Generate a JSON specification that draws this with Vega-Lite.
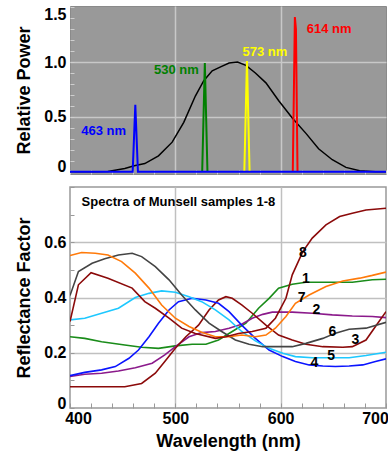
{
  "$schema": "https://vega.github.io/schema/vega-lite/v6.json",
  "padding": {"left": 15, "top": 5, "right": 0, "bottom": 0},
  "spacing": 9,
  "resolve": {"scale": {"color": "independent"}},
  "config": {
    "font": "Liberation Sans",
    "view": {"stroke": null},
    "axis": {
      "labelFont": "Liberation Sans", "labelFontWeight": "bold", "labelFontSize": 16, "labelColor": "#000000",
      "titleFont": "Liberation Sans", "titleFontWeight": "bold", "titleFontSize": 18, "titleColor": "#000000"
    }
  },
  "datasets": {
    "power": [
      {"wl": 400, "p": 0}, {"wl": 420, "p": 0}, {"wl": 436, "p": 0.003}, {"wl": 452, "p": 0.03}, {"wl": 461, "p": 0.055},
      {"wl": 471, "p": 0.075}, {"wl": 484, "p": 0.145}, {"wl": 497, "p": 0.27}, {"wl": 508, "p": 0.45}, {"wl": 519, "p": 0.69},
      {"wl": 527, "p": 0.83}, {"wl": 535, "p": 0.92}, {"wl": 544, "p": 0.96}, {"wl": 551, "p": 0.99}, {"wl": 559, "p": 1.0},
      {"wl": 567, "p": 0.97}, {"wl": 576, "p": 0.9}, {"wl": 586, "p": 0.81}, {"wl": 598, "p": 0.65}, {"wl": 611, "p": 0.49},
      {"wl": 624, "p": 0.35}, {"wl": 636, "p": 0.21}, {"wl": 649, "p": 0.11}, {"wl": 662, "p": 0.04}, {"wl": 675, "p": 0.01},
      {"wl": 690, "p": 0}, {"wl": 700, "p": 0}
    ],
    "spikes": [
      {"s": "red", "wl": 611.5, "p": 0}, {"s": "red", "wl": 613.5, "p": 1.41}, {"s": "red", "wl": 614.5, "p": 1.3}, {"s": "red", "wl": 616, "p": 0},
      {"s": "yellow", "wl": 565.5, "p": 0}, {"s": "yellow", "wl": 568, "p": 1.01}, {"s": "yellow", "wl": 570.5, "p": 0},
      {"s": "green", "wl": 525.5, "p": 0}, {"s": "green", "wl": 528, "p": 0.99}, {"s": "green", "wl": 530.5, "p": 0},
      {"s": "blue", "wl": 400, "p": 0}, {"s": "blue", "wl": 459.5, "p": 0}, {"s": "blue", "wl": 462, "p": 0.61}, {"s": "blue", "wl": 464.5, "p": 0}, {"s": "blue", "wl": 700, "p": 0}
    ],
    "spikeLabels": [
      {"s": "red", "wl": 646, "p": 1.3, "t": "614 nm"},
      {"s": "yellow", "wl": 585, "p": 1.09, "t": "573 nm"},
      {"s": "green", "wl": 501, "p": 0.93, "t": "530 nm"},
      {"s": "blue", "wl": 432, "p": 0.37, "t": "463 nm"}
    ],
    "refl": [
      {"s": "1", "wl": 400, "r": 0.258}, {"s": "1", "wl": 414, "r": 0.252}, {"s": "1", "wl": 430, "r": 0.24}, {"s": "1", "wl": 452, "r": 0.228}, {"s": "1", "wl": 468, "r": 0.22}, {"s": "1", "wl": 484, "r": 0.216}, {"s": "1", "wl": 500, "r": 0.225}, {"s": "1", "wl": 516, "r": 0.231}, {"s": "1", "wl": 529, "r": 0.231}, {"s": "1", "wl": 541, "r": 0.246}, {"s": "1", "wl": 554, "r": 0.277}, {"s": "1", "wl": 567, "r": 0.307}, {"s": "1", "wl": 579, "r": 0.361}, {"s": "1", "wl": 589, "r": 0.397}, {"s": "1", "wl": 598, "r": 0.434}, {"s": "1", "wl": 611, "r": 0.448}, {"s": "1", "wl": 624, "r": 0.455}, {"s": "1", "wl": 643, "r": 0.455}, {"s": "1", "wl": 668, "r": 0.455}, {"s": "1", "wl": 687, "r": 0.464}, {"s": "1", "wl": 700, "r": 0.466},
      {"s": "2", "wl": 400, "r": 0.114}, {"s": "2", "wl": 414, "r": 0.122}, {"s": "2", "wl": 430, "r": 0.126}, {"s": "2", "wl": 446, "r": 0.134}, {"s": "2", "wl": 462, "r": 0.146}, {"s": "2", "wl": 478, "r": 0.162}, {"s": "2", "wl": 490, "r": 0.192}, {"s": "2", "wl": 500, "r": 0.222}, {"s": "2", "wl": 513, "r": 0.258}, {"s": "2", "wl": 525, "r": 0.273}, {"s": "2", "wl": 538, "r": 0.277}, {"s": "2", "wl": 551, "r": 0.289}, {"s": "2", "wl": 563, "r": 0.303}, {"s": "2", "wl": 573, "r": 0.325}, {"s": "2", "wl": 583, "r": 0.339}, {"s": "2", "wl": 592, "r": 0.347}, {"s": "2", "wl": 611, "r": 0.347}, {"s": "2", "wl": 630, "r": 0.343}, {"s": "2", "wl": 649, "r": 0.337}, {"s": "2", "wl": 668, "r": 0.333}, {"s": "2", "wl": 687, "r": 0.331}, {"s": "2", "wl": 700, "r": 0.327},
      {"s": "3", "wl": 400, "r": 0.077}, {"s": "3", "wl": 452, "r": 0.077}, {"s": "3", "wl": 468, "r": 0.089}, {"s": "3", "wl": 481, "r": 0.126}, {"s": "3", "wl": 490, "r": 0.168}, {"s": "3", "wl": 500, "r": 0.216}, {"s": "3", "wl": 510, "r": 0.258}, {"s": "3", "wl": 522, "r": 0.3}, {"s": "3", "wl": 532, "r": 0.355}, {"s": "3", "wl": 541, "r": 0.391}, {"s": "3", "wl": 548, "r": 0.403}, {"s": "3", "wl": 554, "r": 0.397}, {"s": "3", "wl": 563, "r": 0.373}, {"s": "3", "wl": 573, "r": 0.343}, {"s": "3", "wl": 586, "r": 0.3}, {"s": "3", "wl": 598, "r": 0.264}, {"s": "3", "wl": 611, "r": 0.246}, {"s": "3", "wl": 624, "r": 0.231}, {"s": "3", "wl": 640, "r": 0.222}, {"s": "3", "wl": 659, "r": 0.22}, {"s": "3", "wl": 668, "r": 0.222}, {"s": "3", "wl": 681, "r": 0.246}, {"s": "3", "wl": 690, "r": 0.295}, {"s": "3", "wl": 700, "r": 0.349},
      {"s": "4", "wl": 400, "r": 0.117}, {"s": "4", "wl": 414, "r": 0.129}, {"s": "4", "wl": 430, "r": 0.138}, {"s": "4", "wl": 443, "r": 0.15}, {"s": "4", "wl": 456, "r": 0.18}, {"s": "4", "wl": 465, "r": 0.21}, {"s": "4", "wl": 475, "r": 0.258}, {"s": "4", "wl": 484, "r": 0.307}, {"s": "4", "wl": 494, "r": 0.355}, {"s": "4", "wl": 503, "r": 0.385}, {"s": "4", "wl": 516, "r": 0.397}, {"s": "4", "wl": 529, "r": 0.391}, {"s": "4", "wl": 541, "r": 0.379}, {"s": "4", "wl": 551, "r": 0.349}, {"s": "4", "wl": 563, "r": 0.3}, {"s": "4", "wl": 576, "r": 0.252}, {"s": "4", "wl": 589, "r": 0.21}, {"s": "4", "wl": 602, "r": 0.186}, {"s": "4", "wl": 614, "r": 0.168}, {"s": "4", "wl": 627, "r": 0.156}, {"s": "4", "wl": 640, "r": 0.152}, {"s": "4", "wl": 652, "r": 0.15}, {"s": "4", "wl": 665, "r": 0.152}, {"s": "4", "wl": 678, "r": 0.156}, {"s": "4", "wl": 690, "r": 0.168}, {"s": "4", "wl": 700, "r": 0.178},
      {"s": "5", "wl": 400, "r": 0.319}, {"s": "5", "wl": 414, "r": 0.325}, {"s": "5", "wl": 430, "r": 0.343}, {"s": "5", "wl": 446, "r": 0.361}, {"s": "5", "wl": 462, "r": 0.4}, {"s": "5", "wl": 475, "r": 0.415}, {"s": "5", "wl": 487, "r": 0.424}, {"s": "5", "wl": 500, "r": 0.419}, {"s": "5", "wl": 513, "r": 0.403}, {"s": "5", "wl": 525, "r": 0.385}, {"s": "5", "wl": 538, "r": 0.355}, {"s": "5", "wl": 551, "r": 0.319}, {"s": "5", "wl": 563, "r": 0.277}, {"s": "5", "wl": 576, "r": 0.243}, {"s": "5", "wl": 589, "r": 0.216}, {"s": "5", "wl": 602, "r": 0.198}, {"s": "5", "wl": 614, "r": 0.186}, {"s": "5", "wl": 630, "r": 0.182}, {"s": "5", "wl": 649, "r": 0.182}, {"s": "5", "wl": 665, "r": 0.182}, {"s": "5", "wl": 681, "r": 0.19}, {"s": "5", "wl": 700, "r": 0.202},
      {"s": "6", "wl": 400, "r": 0.407}, {"s": "6", "wl": 408, "r": 0.494}, {"s": "6", "wl": 421, "r": 0.524}, {"s": "6", "wl": 433, "r": 0.54}, {"s": "6", "wl": 446, "r": 0.554}, {"s": "6", "wl": 459, "r": 0.56}, {"s": "6", "wl": 468, "r": 0.548}, {"s": "6", "wl": 481, "r": 0.512}, {"s": "6", "wl": 494, "r": 0.464}, {"s": "6", "wl": 506, "r": 0.409}, {"s": "6", "wl": 519, "r": 0.355}, {"s": "6", "wl": 532, "r": 0.307}, {"s": "6", "wl": 544, "r": 0.277}, {"s": "6", "wl": 557, "r": 0.246}, {"s": "6", "wl": 570, "r": 0.231}, {"s": "6", "wl": 583, "r": 0.222}, {"s": "6", "wl": 595, "r": 0.222}, {"s": "6", "wl": 611, "r": 0.222}, {"s": "6", "wl": 624, "r": 0.234}, {"s": "6", "wl": 640, "r": 0.252}, {"s": "6", "wl": 652, "r": 0.271}, {"s": "6", "wl": 665, "r": 0.285}, {"s": "6", "wl": 681, "r": 0.289}, {"s": "6", "wl": 700, "r": 0.31},
      {"s": "7", "wl": 400, "r": 0.552}, {"s": "7", "wl": 411, "r": 0.563}, {"s": "7", "wl": 424, "r": 0.56}, {"s": "7", "wl": 436, "r": 0.554}, {"s": "7", "wl": 449, "r": 0.53}, {"s": "7", "wl": 462, "r": 0.488}, {"s": "7", "wl": 475, "r": 0.434}, {"s": "7", "wl": 487, "r": 0.373}, {"s": "7", "wl": 500, "r": 0.325}, {"s": "7", "wl": 513, "r": 0.295}, {"s": "7", "wl": 525, "r": 0.274}, {"s": "7", "wl": 538, "r": 0.258}, {"s": "7", "wl": 551, "r": 0.258}, {"s": "7", "wl": 563, "r": 0.264}, {"s": "7", "wl": 576, "r": 0.258}, {"s": "7", "wl": 586, "r": 0.264}, {"s": "7", "wl": 595, "r": 0.289}, {"s": "7", "wl": 605, "r": 0.331}, {"s": "7", "wl": 614, "r": 0.379}, {"s": "7", "wl": 627, "r": 0.409}, {"s": "7", "wl": 643, "r": 0.44}, {"s": "7", "wl": 659, "r": 0.46}, {"s": "7", "wl": 675, "r": 0.47}, {"s": "7", "wl": 687, "r": 0.48}, {"s": "7", "wl": 700, "r": 0.492},
      {"s": "8", "wl": 400, "r": 0.313}, {"s": "8", "wl": 408, "r": 0.446}, {"s": "8", "wl": 420, "r": 0.49}, {"s": "8", "wl": 436, "r": 0.47}, {"s": "8", "wl": 459, "r": 0.434}, {"s": "8", "wl": 471, "r": 0.385}, {"s": "8", "wl": 481, "r": 0.361}, {"s": "8", "wl": 494, "r": 0.325}, {"s": "8", "wl": 506, "r": 0.289}, {"s": "8", "wl": 519, "r": 0.27}, {"s": "8", "wl": 538, "r": 0.252}, {"s": "8", "wl": 548, "r": 0.258}, {"s": "8", "wl": 560, "r": 0.27}, {"s": "8", "wl": 573, "r": 0.277}, {"s": "8", "wl": 586, "r": 0.289}, {"s": "8", "wl": 595, "r": 0.325}, {"s": "8", "wl": 605, "r": 0.397}, {"s": "8", "wl": 611, "r": 0.482}, {"s": "8", "wl": 621, "r": 0.566}, {"s": "8", "wl": 630, "r": 0.615}, {"s": "8", "wl": 643, "r": 0.663}, {"s": "8", "wl": 656, "r": 0.693}, {"s": "8", "wl": 668, "r": 0.705}, {"s": "8", "wl": 681, "r": 0.717}, {"s": "8", "wl": 700, "r": 0.723}
    ],
    "nums": [
      {"t": "8", "wl": 621, "r": 0.56}, {"t": "1", "wl": 624, "r": 0.467}, {"t": "7", "wl": 620, "r": 0.4}, {"t": "2", "wl": 634, "r": 0.353},
      {"t": "6", "wl": 649, "r": 0.274}, {"t": "3", "wl": 671, "r": 0.246}, {"t": "5", "wl": 648, "r": 0.19}, {"t": "4", "wl": 632, "r": 0.164}
    ],
    "titleRow": [{"wl": 411, "r": 0.746, "t": "Spectra of Munsell samples 1-8"}]
  },
  "vconcat": [
    {
      "width": 316,
      "height": 168,
      "view": {"fill": "#999999", "stroke": "#8a8a8a", "strokeWidth": 1},
      "encoding": {
        "x": {"field": "wl", "type": "quantitative", "scale": {"domain": [400, 700], "nice": false, "zero": false},
          "axis": {"values": [400,420,440,460,480,500,520,540,560,580,600,620,640,660,680,700], "labels": false, "title": null, "domain": false,
            "tickSize": -4, "tickColor": "#cfcfcf", "minExtent": 0, "maxExtent": 0,
            "grid": true, "gridColor": "#c8c8c8", "gridWidth": 1.5,
            "gridOpacity": {"condition": {"test": "datum.value == 500 || datum.value == 600", "value": 1}, "value": 0}}},
        "y": {"field": "p", "type": "quantitative", "scale": {"domain": [-0.02, 1.51], "nice": false, "zero": false},
          "axis": {"values": [0,0.1,0.2,0.3,0.4,0.5,0.6,0.7,0.8,0.9,1,1.1,1.2,1.3,1.4,1.5], "title": "Relative Power", "titlePadding": 10, "domain": false,
            "tickSize": -4, "tickColor": "#cfcfcf", "labelPadding": 8,
            "labelExpr": "round(datum.value*10) % 5 == 0 ? (datum.value == 0 ? '0' : format(datum.value, '.1f')) : ''",
            "labelOffset": {"condition": [{"test": "datum.value == 0", "value": -5}, {"test": "datum.value == 1.5", "value": 7}], "value": 0},
            "grid": true, "gridColor": "#c8c8c8", "gridWidth": 1.5,
            "gridOpacity": {"condition": {"test": "datum.value == 0.5 || datum.value == 1", "value": 1}, "value": 0}}}
      },
      "layer": [
        {"data": {"name": "power"}, "mark": {"type": "line", "color": "#000000", "strokeWidth": 1.5, "clip": true}},
        {"data": {"name": "spikes"}, "mark": {"type": "line", "strokeWidth": 2, "clip": true},
          "encoding": {"color": {"field": "s", "type": "nominal", "scale": {"domain": ["red", "yellow", "green", "blue"], "range": ["#ff0000", "#ffff00", "#008000", "#0000ff"]}, "legend": null}}},
        {"data": {"name": "spikeLabels"}, "mark": {"type": "text", "fontSize": 13, "fontWeight": "bold", "align": "center", "baseline": "middle"},
          "encoding": {"text": {"field": "t"}, "color": {"field": "s", "type": "nominal", "legend": null}}}
      ]
    },
    {
      "width": 316,
      "height": 221,
      "view": {"fill": "#ffffff", "stroke": "#999999", "strokeWidth": 1.5},
      "encoding": {
        "x": {"field": "wl", "type": "quantitative", "scale": {"domain": [400, 700], "nice": false, "zero": false},
          "axis": {"values": [400,420,440,460,480,500,520,540,560,580,600,620,640,660,680,700], "title": "Wavelength (nm)", "titlePadding": 6, "domain": false,
            "tickSize": -5, "tickColor": "#999999", "labelPadding": 7, "labelFlush": false,
            "labelExpr": "datum.value % 100 == 0 ? datum.value : ''",
            "labelOffset": {"condition": [{"test": "datum.value == 400", "value": 8}, {"test": "datum.value == 700", "value": -11}], "value": 0},
            "grid": true, "gridColor": "#c0c0c0", "gridWidth": 1.5,
            "gridOpacity": {"condition": {"test": "datum.value == 500 || datum.value == 600", "value": 1}, "value": 0}}},
        "y": {"field": "r", "type": "quantitative", "scale": {"domain": [0, 0.8], "nice": false, "zero": false},
          "axis": {"values": [0,0.1,0.2,0.3,0.4,0.5,0.6,0.7,0.8], "title": "Reflectance Factor", "titlePadding": 10, "domain": false,
            "tickSize": -4, "tickColor": "#999999", "labelPadding": 8,
            "labelExpr": "(round(datum.value*10) % 2 == 0 && datum.value < 0.75) ? (datum.value == 0 ? '0' : format(datum.value, '.1f')) : ''",
            "labelOffset": {"condition": {"test": "datum.value == 0", "value": -5}, "value": 0},
            "grid": true, "gridColor": "#c0c0c0", "gridWidth": 1.5,
            "gridOpacity": {"condition": {"test": "round(datum.value*10) % 2 == 0 && datum.value > 0 && datum.value < 0.75", "value": 1}, "value": 0}}}
      },
      "layer": [
        {"data": {"name": "refl"}, "mark": {"type": "line", "strokeWidth": 1.6, "clip": true},
          "encoding": {"color": {"field": "s", "type": "nominal", "scale": {"domain": ["1","2","3","4","5","6","7","8"], "range": ["#1a8c1a", "#8b1a8b", "#8b0a0a", "#0a14ff", "#1ec8ff", "#444444", "#ff7a0a", "#8b0a0a"]}, "legend": null}}},
        {"data": {"name": "nums"}, "mark": {"type": "text", "fontSize": 14, "fontWeight": "bold", "align": "center", "baseline": "middle", "color": "#000000"},
          "encoding": {"text": {"field": "t"}}},
        {"data": {"name": "titleRow"}, "mark": {"type": "text", "fontSize": 13, "fontWeight": "bold", "align": "left", "baseline": "middle", "color": "#000000"},
          "encoding": {"text": {"field": "t"}}}
      ]
    }
  ]
}
